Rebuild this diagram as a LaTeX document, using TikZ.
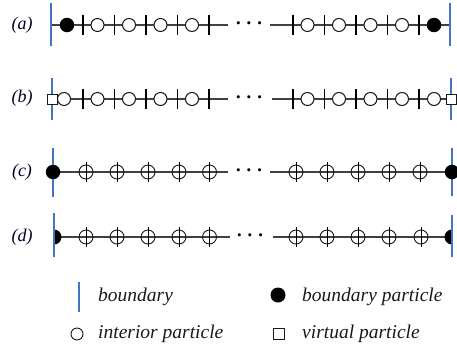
\documentclass[tikz,border=0pt]{standalone}
\usepackage{fontspec}
\setmainfont{Liberation Serif}
\definecolor{bndblue}{RGB}{68,114,196}
\begin{document}
\begin{tikzpicture}[x=1pt,y=-1pt,
 bnd/.style={draw=bndblue,line width=1.8pt},
 axis/.style={draw=black!75,line width=1.2pt},
 tck/.style={draw=black,line width=1.2pt},
 bpart/.style={circle,fill=black,minimum size=14.5pt,inner sep=0pt},
 ipart/.style={circle,draw=black!90,fill=white,line width=1pt,minimum size=13pt,inner sep=0pt},
 vpart/.style={rectangle,draw=black!90,fill=white,line width=1pt,minimum size=10pt,inner sep=0pt},
 cpart/.style={circle,draw=black!90,line width=0.9pt,minimum size=14pt,inner sep=0pt},
 cbar/.style={draw=black,line width=0.9pt},
 lbl/.style={font=\fontsize{18}{20}\selectfont\itshape,text=black!85!blue,inner sep=0pt},
 legtxt/.style={font=\fontsize{19.5}{22}\selectfont\itshape,anchor=base west,inner sep=0pt,text=black!90},
 dotsty/.style={font=\fontsize{20}{22}\selectfont\boldmath,inner sep=0pt}
]
\useasboundingbox (0,0) rectangle (457,351);

% ---------- row (a) ----------
\node[lbl] (la) at (22,25) {(a)};
\coordinate (aLt) at (51,3); \coordinate (aLbt) at (51,46);
\coordinate (aLb) at (51,25); \coordinate (aLe) at (228,25);
\draw[axis] (aLb) -- (aLe);
\draw[bnd] (aLt) -- (aLbt);
\foreach \x in {83,114.5,146,177.5,209} \draw[tck] (\x,15) -- (\x,35);
\foreach \x [count=\i] in {97.5,129,160.5,192} \node[ipart] (aL\i) at (\x,25) {};
\node[bpart] (aLB) at (67,25) {};
\node[dotsty] (adots) at (249,24) {$\cdots$};
\coordinate (aRb) at (270,25); \coordinate (aRe) at (450,25);
\coordinate (aRt) at (450,3); \coordinate (aRbt) at (450,46);
\draw[axis] (aRb) -- (aRe);
\draw[bnd] (aRt) -- (aRbt);
\foreach \x in {293,324.5,356,387.5,419} \draw[tck] (\x,15) -- (\x,35);
\foreach \x [count=\i] in {307.5,339,370.5,402} \node[ipart] (aR\i) at (\x,25) {};
\node[bpart] (aRB) at (434,25) {};

% ---------- row (b) ----------
\node[lbl] (lb) at (22,98) {(b)};
\coordinate (bLt) at (52,78); \coordinate (bLbt) at (52,120);
\coordinate (bLb) at (57,99); \coordinate (bLe) at (228,99);
\draw[axis] (bLb) -- (bLe);
\draw[bnd] (bLt) -- (bLbt);
\foreach \x in {83,114.5,146,177.5,209} \draw[tck] (\x,89) -- (\x,109);
\foreach \x [count=\i] in {64,97.5,129,160.5,192} \node[ipart] (bL\i) at (\x,99) {};
\node[vpart] (bLV) at (52,99) {};
\node[dotsty] (bdots) at (249,98) {$\cdots$};
\coordinate (bRb) at (272,99); \coordinate (bRe) at (446,99);
\coordinate (bRt) at (451,78); \coordinate (bRbt) at (451,120);
\draw[axis] (bRb) -- (bRe);
\draw[bnd] (bRt) -- (bRbt);
\foreach \x in {293,324.5,356,387.5,419} \draw[tck] (\x,89) -- (\x,109);
\foreach \x [count=\i] in {307.5,339,370.5,402,434} \node[ipart] (bR\i) at (\x,99) {};
\node[vpart] (bRV) at (451,99) {};

% ---------- row (c) ----------
\node[lbl] (lc) at (22,172) {(c)};
\coordinate (cLt) at (53,148); \coordinate (cLbt) at (53,197);
\coordinate (cLb) at (53,172); \coordinate (cLe) at (228,172);
\draw[axis] (cLb) -- (cLe);
\draw[bnd] (cLt) -- (cLbt);
\foreach \x [count=\i] in {86,117,148,179,209.5} {
  \node[cpart] (cL\i) at (\x,172) {};
  \draw[cbar] ([yshift=10pt]cL\i.center) -- ([yshift=-10pt]cL\i.center);
}
\node[bpart] (cLB) at (53,172) {};
\node[dotsty] (cdots) at (249,171) {$\cdots$};
\coordinate (cRb) at (270,172); \coordinate (cRe) at (452,172);
\coordinate (cRt) at (452,148); \coordinate (cRbt) at (452,196);
\draw[axis] (cRb) -- (cRe);
\draw[bnd] (cRt) -- (cRbt);
\foreach \x [count=\i] in {296,327,358,389,420} {
  \node[cpart] (cR\i) at (\x,172) {};
  \draw[cbar] ([yshift=10pt]cR\i.center) -- ([yshift=-10pt]cR\i.center);
}
\node[bpart] (cRB) at (452,172) {};

% ---------- row (d) ----------
\node[lbl] (ld) at (22,237) {(d)};
\coordinate (dLt) at (54,213); \coordinate (dLbt) at (54,257);
\coordinate (dLb) at (54,237); \coordinate (dLe) at (230,237);
\draw[axis] (dLb) -- (dLe);
\fill[black] (dLb) ++(0,-7.5) arc[start angle=-90,end angle=90,radius=7.5] -- cycle;
\draw[bnd] (dLt) -- (dLbt);
\foreach \x [count=\i] in {86,117,148,179,209.5} {
  \node[cpart] (dL\i) at (\x,237) {};
  \draw[cbar] ([yshift=10pt]dL\i.center) -- ([yshift=-10pt]dL\i.center);
}
\node[dotsty] (ddots) at (250,236) {$\cdots$};
\coordinate (dRb) at (273,237); \coordinate (dRe) at (452,237);
\coordinate (dRt) at (452,215); \coordinate (dRbt) at (452,257);
\draw[axis] (dRb) -- (dRe);
\fill[black] (dRe) ++(0,-7.5) arc[start angle=270,end angle=90,radius=7.5] -- cycle;
\draw[bnd] (dRt) -- (dRbt);
\foreach \x [count=\i] in {296,327,358,389,421} {
  \node[cpart] (dR\i) at (\x,237) {};
  \draw[cbar] ([yshift=10pt]dR\i.center) -- ([yshift=-10pt]dR\i.center);
}

% ---------- legend ----------
\coordinate (gBt) at (79,282); \coordinate (gBb) at (79,312);
\draw[bnd] (gBt) -- (gBb);
\node[legtxt] (tB) at (98,301) {boundary};
\node[bpart,minimum size=15pt] (gBP) at (278,295) {};
\node[legtxt] (tBP) at (302,301) {boundary particle};
\node[ipart,minimum size=12pt,line width=0.9pt] (gIP) at (77,334) {};
\node[legtxt] (tIP) at (98,338) {interior particle};
\node[vpart,minimum size=11pt,line width=0.9pt] (gVP) at (279,334) {};
\node[legtxt] (tVP) at (302,338) {virtual particle};
\end{tikzpicture}
\end{document}
